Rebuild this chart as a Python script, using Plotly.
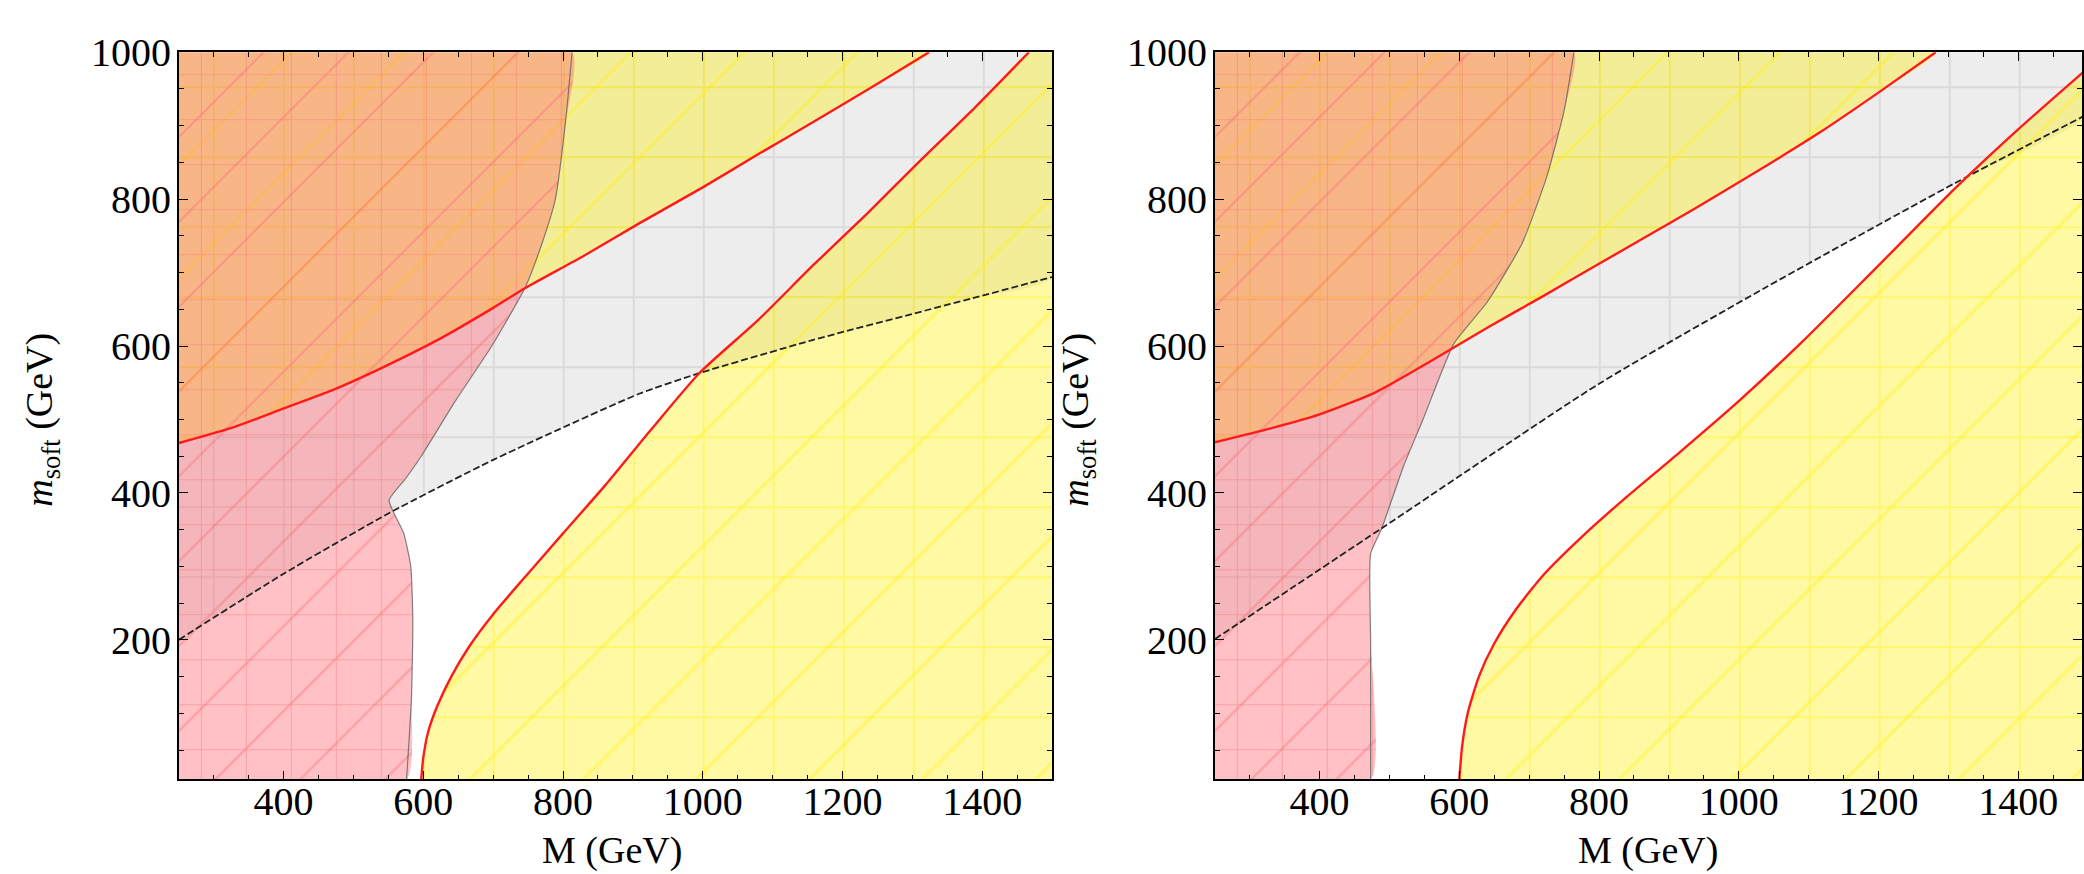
import plotly.graph_objects as go

# ---------------- data ----------------
X_MIN, X_MAX, Y_MIN, Y_MAX = 250, 1500, 10, 1000

# Left panel
L_red_bnd_M = [576, 583, 585, 582, 572, 551, 575, 597, 645, 698, 746, 770, 789, 803, 813]
L_red_bnd_y = [10, 120, 227, 300, 345, 390, 420, 450, 524, 600, 680, 740, 800, 900, 1000]

L_up_M = [250, 330, 400, 470, 540, 620, 700, 746, 830, 909, 1000, 1081, 1160, 1243, 1324]
L_up_y = [468, 490, 515, 540, 570, 608, 652, 679, 723, 767, 816, 862, 906, 953, 1000]

L_low_M = [597, 600, 607, 620, 640, 665, 700, 745, 800, 860, 925, 995, 1080, 1157, 1235, 1310, 1390, 1467]
L_low_y = [10, 40, 75, 110, 150, 190, 235, 285, 345, 410, 485, 563, 636, 709, 780, 851, 925, 1000]

L_dash_M = [250, 400, 550, 700, 909, 995, 1157, 1386, 1500]
L_dash_y = [200, 290, 372, 445, 535, 563, 608, 665, 694]

# Right panel
R_red_bnd_M = [473, 473, 473, 489, 520, 548, 592, 640, 690, 725, 750, 764]
R_red_bnd_y = [10, 200, 317, 352, 436, 500, 603, 660, 740, 830, 920, 1000]

R_up_M = [250, 330, 400, 480, 560, 640, 720, 800, 935, 1030, 1118, 1200, 1282]
R_up_y = [469, 488, 507, 537, 580, 625, 668, 712, 786, 840, 892, 945, 1000]

R_low_M = [600, 604, 612, 628, 650, 680, 720, 775, 840, 915, 1000, 1090, 1190, 1310, 1400, 1492]
R_low_y = [10, 55, 100, 150, 195, 240, 288, 340, 395, 455, 525, 605, 700, 815, 895, 972]

R_dash_M = [250, 489, 799, 1039, 1310, 1500]
R_dash_y = [201, 352, 548, 680, 822, 916]

X_TICKS = [400, 600, 800, 1000, 1200, 1400]
Y_TICKS = [200, 400, 600, 800, 1000]

# ---------------- styles ----------------
GREY = "rgba(200,200,200,0.32)"
YELLOW = "rgba(255,240,0,0.36)"
PINK = "rgba(255,100,110,0.40)"
CLEAR = "rgba(0,0,0,0)"
RED_LINE = "#ff1a1a"
FONT = "Liberation Serif"

fig = go.Figure()


def pattern(bg, fg, shape, size, solidity=0.05):
    return dict(shape=shape, bgcolor=bg, fgcolor=fg, fgopacity=1, size=size, solidity=solidity)


def add_fill(kw, xs, ys, color, fg, grid, diag, smoothing=0.6):
    fig.add_trace(go.Scatter(x=xs, y=ys, fill="toself", fillcolor=color, mode="lines",
                             fillpattern=pattern(color, fg, "+", grid),
                             line=dict(width=0, shape="spline", smoothing=smoothing), **kw))
    if diag:
        fig.add_trace(go.Scatter(x=xs, y=ys, fill="toself", fillcolor=CLEAR, mode="lines",
                                 fillpattern=pattern(CLEAR, fg, "/", diag, 0.04),
                                 line=dict(width=0, shape="spline", smoothing=smoothing), **kw))


def add_panel(xa, ya, red_M, red_y, up_M, up_y, low_M, low_y, dash_M, dash_y):
    kw = dict(xaxis=xa, yaxis=ya, showlegend=False, hoverinfo="skip")
    # grey region: above dashed line
    add_fill(kw, dash_M + [X_MAX, X_MIN], dash_y + [Y_MAX, Y_MAX],
             GREY, "rgba(170,170,170,0.30)", 70, 0)
    # yellow region above upper red line
    add_fill(kw, up_M + [X_MIN], up_y + [Y_MAX],
             YELLOW, "rgba(255,240,0,0.35)", 70, 80)
    # yellow region right of lower red curve
    add_fill(kw, low_M + [X_MAX, X_MAX, X_MAX], low_y + [Y_MAX, Y_MAX, Y_MIN],
             YELLOW, "rgba(255,240,0,0.35)", 70, 80)
    # pink region (left)
    add_fill(kw, [X_MIN] + red_M + [X_MIN], [Y_MIN] + red_y + [Y_MAX],
             PINK, "rgba(245,110,120,0.40)", 45, 60, smoothing=0.5)
    # boundary of pink region
    fig.add_trace(go.Scatter(x=red_M, y=red_y, mode="lines",
                             line=dict(color="rgba(90,90,90,0.75)", width=1.2,
                                       shape="spline", smoothing=0.5), **kw))
    # dashed black line
    fig.add_trace(go.Scatter(x=dash_M, y=dash_y, mode="lines",
                             line=dict(color="#222222", width=1.8, dash="7px,3px",
                                       shape="spline", smoothing=0.6), **kw))
    # red lines
    fig.add_trace(go.Scatter(x=up_M, y=up_y, mode="lines",
                             line=dict(color=RED_LINE, width=2.4, shape="spline", smoothing=0.6), **kw))
    fig.add_trace(go.Scatter(x=low_M, y=low_y, mode="lines",
                             line=dict(color=RED_LINE, width=2.4, shape="spline", smoothing=0.6), **kw))


add_panel("x", "y", L_red_bnd_M, L_red_bnd_y, L_up_M, L_up_y, L_low_M, L_low_y, L_dash_M, L_dash_y)
add_panel("x2", "y2", R_red_bnd_M, R_red_bnd_y, R_up_M, R_up_y, R_low_M, R_low_y, R_dash_M, R_dash_y)

W, H = 2084, 874
L_left, L_right = 179, 1053
R_left = 1216
top, bottom = 31, 777
px_per_unit = (L_right - L_left) / (X_MAX - X_MIN)
R_xmax = X_MIN + (W - R_left) / px_per_unit

y_dom = [1 - bottom / H, 1 - top / H]

axis_common = dict(
    showgrid=False, zeroline=False, showline=True, linecolor="black", linewidth=1.6,
    mirror="ticks", ticks="inside", ticklen=9, tickwidth=1.4, tickcolor="black",
    tickfont=dict(family=FONT, size=40, color="black"),
    minor=dict(dtick=50, ticks="inside", ticklen=5, tickwidth=1, tickcolor="black"),
)

fig.update_layout(
    width=W, height=H,
    margin=dict(l=0, r=0, t=0, b=0),
    paper_bgcolor="white", plot_bgcolor="white",
    xaxis=dict(domain=[L_left / W, L_right / W], range=[X_MIN, X_MAX], anchor="y",
               tickvals=X_TICKS, ticklabelstandoff=-14, **axis_common),
    yaxis=dict(domain=y_dom, range=[Y_MIN, Y_MAX], anchor="x",
               tickvals=Y_TICKS, ticklabelstandoff=-2, **axis_common),
    xaxis2=dict(domain=[R_left / W, 1], range=[X_MIN, R_xmax], anchor="y2",
                tickvals=X_TICKS, ticklabelstandoff=-14, **axis_common),
    yaxis2=dict(domain=y_dom, range=[Y_MIN, Y_MAX], anchor="x2",
                tickvals=Y_TICKS, ticklabelstandoff=-2, **axis_common),
)

title_font = dict(family=FONT, size=38, color="black")
for cx in [(L_left + L_right) / 2, (R_left + R_left + (L_right - L_left)) / 2]:
    fig.add_annotation(x=(cx - 3) / W, y=1 - 850 / H, xref="paper", yref="paper",
                       text="M (GeV)", showarrow=False, font=title_font,
                       xanchor="center", yanchor="middle")
for cx in [42, 42 + (R_left - L_left)]:
    fig.add_annotation(x=cx / W, y=1 - 408 / H, xref="paper", yref="paper",
                       text="<i>m</i><sub>soft</sub> (GeV)", showarrow=False, font=title_font,
                       textangle=-90, xanchor="center", yanchor="middle")

fig.write_html("out.html")
